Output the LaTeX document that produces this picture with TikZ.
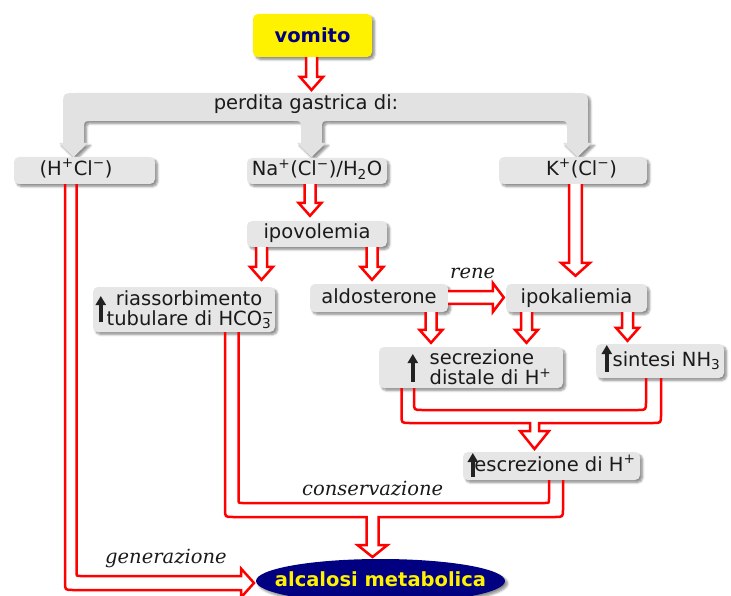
\documentclass[tikz,border=0pt]{standalone}
\usepackage{fontspec}
\setmainfont{DejaVu Sans}
\newfontfamily\lblfont{DejaVu Serif}
\usetikzlibrary{calc,shadows.blur,arrows.meta,shapes.geometric}
\definecolor{boxgray}{HTML}{E6E6E6}
\definecolor{bandgray}{HTML}{E2E2E2}
\definecolor{navyblue}{HTML}{000080}
\definecolor{arrred}{HTML}{FF0000}
\definecolor{updark}{HTML}{222222}
\definecolor{txt}{HTML}{1A1A1A}
\tikzset{
  box/.style={fill=boxgray, rounded corners=5pt, inner sep=0pt, text=txt,
    font=\fontsize{19.5}{20}\selectfont,
    blur shadow={shadow xshift=2.5pt, shadow yshift=-2.5pt, shadow blur steps=6, shadow opacity=45}},
  single/.style={text height=14.5pt, text depth=4.5pt},
  hollow/.style={draw=arrred, line width=2.5pt, fill=white, line join=miter},
  hollowline/.style={draw=arrred, line width=2.5pt, line join=miter},
  uparr/.style={draw=updark, line width=3.5pt, -{Triangle[width=10pt,length=9pt]}},
  lbl/.style={font=\lblfont\itshape\fontsize{19.5}{22}\selectfont, text=txt, inner sep=0pt, anchor=base west},
}
\newcommand\vdarr[7]{%
  \coordinate (vS) at (#2 -| #1,0);
  \coordinate (vT) at ($(#3 -| #1,0)+(0,#4)$);
  \draw[hollow] ($(vS)+(-#5,0)$) -- ($(vT)+(-#5,#7)$) -- ($(vT)+(-#6,#7)$) -- (vT)
     -- ($(vT)+(#6,#7)$) -- ($(vT)+(#5,#7)$) -- ($(vS)+(#5,0)$);}
\newcommand\hrarr[7]{%
  \coordinate (hS) at (#2 |- 0,#1);
  \coordinate (hT) at ($(#3 |- 0,#1)+(-#4,0)$);
  \draw[hollow] ($(hS)+(0,#5)$) -- ($(hT)+(-#7,#5)$) -- ($(hT)+(-#7,#6)$) -- (hT)
     -- ($(hT)+(-#7,-#6)$) -- ($(hT)+(-#7,-#5)$) -- ($(hS)+(0,-#5)$);}
\begin{document}
\begin{tikzpicture}[x=1pt,y=1pt]
\useasboundingbox (0,0) rectangle (731,-596);

% gray band
\fill[bandgray, blur shadow={shadow xshift=2.5pt, shadow yshift=-2.5pt, shadow blur steps=6, shadow opacity=45}]
  (63,-143) -- (63,-107) .. controls (63,-93) .. (77,-93)
  -- (574,-93) .. controls (588,-93) .. (588,-107)
  -- (588,-143) -- (592,-143) -- (577.5,-157) -- (563,-143) -- (567,-143)
  -- (567,-129) .. controls (567,-121) .. (559,-121)
  -- (330,-121) .. controls (322,-121) .. (322,-129)
  -- (322,-143) -- (326,-143) -- (311.5,-157) -- (297,-143) -- (301,-143)
  -- (301,-129) .. controls (301,-121) .. (293,-121)
  -- (92,-121) .. controls (84,-121) .. (84,-129)
  -- (84,-143) -- (88,-143) -- (73.5,-157) -- (59,-143) -- cycle;
\node[anchor=base, inner sep=0pt, text=txt, font=\fontsize{19.5}{22}\selectfont] (perdita) at (306,-110) {perdita gastrica di:};
\coordinate (bandtop) at (311.5,-93);

% nodes
\node[box, fill=yellow, single, text height=16pt, text depth=1pt, minimum width=119, minimum height=43, text=navyblue, font=\fontsize{19.5}{22}\selectfont\bfseries] (vomito) at (312.5,-35.5) {vomito};
\node[box, single, minimum width=141, minimum height=27] (hcl) at (84.5,-170.5) {\hspace*{-17pt}(H\textsuperscript{+}Cl\textsuperscript{−})};
\node[box, single, minimum width=140, minimum height=26] (na) at (317,-171) {Na\textsuperscript{+}(Cl\textsuperscript{−})/H\textsubscript{2}O};
\node[box, single, minimum width=148, minimum height=27] (kcl) at (573,-170.5) {\hspace*{17pt}K\textsuperscript{+}(Cl\textsuperscript{−})};
\node[box, single, minimum width=140, minimum height=26] (ipov) at (317,-234) {ipovolemia};
\node[box, align=center, minimum width=182, minimum height=45] (ria) at (184,-309.5) {\hspace*{10pt}riassorbimento\\\hspace*{10pt}tubulare di HCO\rlap{\textsuperscript{−}}\textsubscript{3}};
\node[box, single, minimum width=138, minimum height=28] (aldo) at (379,-298) {aldosterone};
\node[box, single, minimum width=141, minimum height=28] (ipok) at (576.5,-298) {ipokaliemia};
\node[box, align=left, minimum width=184, minimum height=41] (secr) at (471,-367.5) {\hspace*{39pt}secrezione\\\hspace*{39pt}distale di H\textsuperscript{+}};
\node[box, single, minimum width=128, minimum height=34] (sint) at (660,-361) {\hspace*{13pt}sintesi NH\textsubscript{3}};
\node[box, single, minimum width=177, minimum height=28] (escr) at (551.5,-466) {\hspace*{7pt}escrezione di H\textsuperscript{+}};
\node[ellipse, fill=navyblue, inner sep=0pt, minimum width=249, minimum height=44, text=yellow, single,
  font=\fontsize{19.5}{22}\selectfont\bfseries,
  blur shadow={shadow xshift=2.5pt, shadow yshift=-2.5pt, shadow blur steps=6, shadow opacity=45}] (alc) at (380.5,-581) {\makebox[0pt]{alcalosi metabolica}};

% up arrows in boxes
\draw[uparr] ($(ria.west)+(8,-12.5)$) -- ($(ria.west)+(8,13.5)$);
\draw[uparr] ($(secr.west)+(34,-14.5)$) -- ($(secr.west)+(34,13.5)$);
\draw[uparr] ($(sint.west)+(11,-11)$) -- ($(sint.west)+(11,16)$);
\draw[uparr] ($(escr.west)+(10,-11)$) -- ($(escr.west)+(10,13)$);

% simple hollow arrows
\vdarr{311.5}{vomito.south}{bandtop}{3}{5.5}{11.5}{13}
\vdarr{310}{na.south}{ipov.north}{5}{5.5}{11.5}{13}
\vdarr{575.5}{kcl.south}{ipok.north}{8}{6.3}{14.5}{13}
\vdarr{261.5}{ipov.south}{ria.north}{7}{5.5}{11.5}{13}
\vdarr{372}{ipov.south}{aldo.north}{4}{5.5}{11.5}{13}
\vdarr{431}{aldo.south}{secr.north}{4}{5.5}{11.5}{13}
\vdarr{526.5}{ipok.south}{secr.north}{4}{5.5}{11.5}{13}
\vdarr{627.5}{ipok.south}{sint.north}{3}{5.5}{11.5}{13}
\hrarr{-297.5}{aldo.east}{ipok.west}{2}{6.3}{14.5}{11}

% merge: secrezione + sintesi -> escrezione
\draw[hollowline] (secr.south -| 401.5,0) -- (401.5,-415) .. controls (401.5,-423) .. (409.5,-423)
  -- (530,-423) -- (530,-431) -- (520,-431) -- (534.5,-449) -- (549,-431) -- (539,-431) -- (539,-423)
  -- (653,-423) .. controls (661,-423) .. (661,-415) -- (sint.south -| 661,0);
\draw[hollowline] (secr.south -| 414,0) -- (414,-402) .. controls (414,-410) .. (422,-410)
  -- (638,-410) .. controls (646,-410) .. (646,-402) -- (sint.south -| 646,0);

% merge: riassorbimento + escrezione -> alcalosi
\draw[hollowline] (ria.south -| 225,0) -- (225,-509) .. controls (225,-517) .. (233,-517)
  -- (366.5,-517) -- (366.5,-545) -- (357.5,-545) -- (372.5,-557) -- (387.5,-545) -- (378.5,-545) -- (378.5,-517)
  -- (555,-517) .. controls (563,-517) .. (563,-509) -- (escr.south -| 563,0);
\draw[hollowline] (ria.south -| 238.5,0) -- (238.5,-499) .. controls (238.5,-503) .. (242.5,-503)
  -- (545,-503) .. controls (549,-503) .. (549,-499) -- (escr.south -| 549,0);

% (H+Cl-) -> alcalosi
\draw[hollowline] (hcl.south -| 65,0) -- (65,-582) .. controls (65,-590) .. (73,-590)
  -- (241,-590) -- (241,-597.5) -- (254,-583) -- (241,-568.5) -- (241,-576)
  -- (80.5,-576) .. controls (76.5,-576) .. (76.5,-572) -- (hcl.south -| 76.5,0);

% labels
\node[lbl] (rene) at (450,-279) {rene};
\node[lbl] (cons) at (302,-495) {conservazione};
\node[lbl] (gene) at (105,-563) {generazione};
\end{tikzpicture}
\end{document}
